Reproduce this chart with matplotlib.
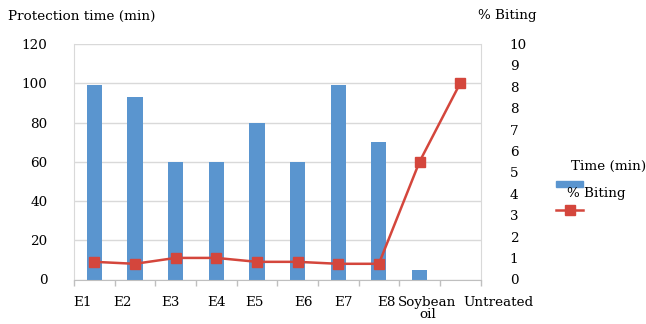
import numpy as np
import matplotlib
matplotlib.use("Agg")
import matplotlib.pyplot as plt
from matplotlib.transforms import ScaledTranslation
from matplotlib.patches import Rectangle
from matplotlib.lines import Line2D

plt.rcParams['font.family'] = ['DejaVu Serif']

# Treatments and measurements
categories = ["E1", "E2", "E3", "E4", "E5", "E6", "E7", "E8", "Soybean\noil", "Untreated"]
protection_time = [99, 93, 60, 60, 80, 60, 99, 70, 5, 0]      # minutes
biting = [9, 8, 11, 11, 9, 9, 8, 8, 60, 100]                  # % biting
left_ticks = [0, 20, 40, 60, 80, 100, 120]
right_tick_labels = ["0", "1", "2", "3", "4", "5", "6", "7", "8", "8", "9", "10"]

BLUE = "#5A95CF"
RED = "#D4463C"
GRID = "#D9D9D9"
FS = 9.7

W, H = 646, 324
fig = plt.figure(figsize=(W / 100, H / 100), dpi=100)
ax = fig.add_axes([74 / W, 1 - 279.5 / H, (480.5 - 74) / W, (279.5 - 44) / H])

x = np.arange(len(categories))
ax.bar(x, protection_time, width=0.375, color=BLUE, zorder=2)
ax.plot(x, biting, color=RED, lw=1.8, marker="s", ms=7, zorder=3)

ax.set_xlim(-0.5, len(categories) - 0.5)
ax.set_ylim(left_ticks[0], left_ticks[-1])
ax.set_yticks(left_ticks)
ax.yaxis.grid(True, color=GRID, lw=1)
ax.set_axisbelow(True)
ax.tick_params(axis="y", length=0, pad=19, labelsize=FS)

ax.spines["top"].set_visible(False)
ax.spines["left"].set_color(GRID)
ax.spines["right"].set_color(GRID)
ax.spines["bottom"].set_color("#BFBFBF")

# category labels centred on bars, boundary tick marks between them
ax.set_xticks(x, categories)
ax.set_xticks(np.arange(-0.5, len(categories), 1), minor=True)
ax.tick_params(axis="x", which="major", length=0, pad=12, labelsize=FS)
ax.tick_params(axis="x", which="minor", length=4, color="#BFBFBF", width=1)
shifts_px = [-12, -12.5, -5, 0, -2, 5.5, 5.5, 8, 8, 38]
for lab, dx in zip(ax.get_xticklabels(), shifts_px):
    lab.set_transform(lab.get_transform() + ScaledTranslation(dx / 100, 0, fig.dpi_scale_trans))
    lab.set_linespacing(0.9)

# secondary scale for % biting
ax2 = ax.twinx()
ax2.set_ylim(0, len(right_tick_labels) - 1)
ax2.set_yticks(np.arange(len(right_tick_labels)), right_tick_labels)
ax2.tick_params(axis="y", length=0, pad=21, labelsize=FS)
for s in ax2.spines.values():
    s.set_visible(False)

# axis titles
fig.text(8 / W, 1 - 16 / H, "Protection time (min)", fontsize=FS, va="center", ha="left")
fig.text(478 / W, 1 - 16 / H, "% Biting", fontsize=FS, va="center", ha="left")

# legend
fig.text(571 / W, 1 - 166 / H, "Time (min)", fontsize=FS, va="center", ha="left")
fig.add_artist(Rectangle((556 / W, 1 - 186.5 / H), 27 / W, 6 / H,
                         transform=fig.transFigure, color=BLUE))
fig.text(567 / W, 1 - 194 / H, "% Biting", fontsize=FS, va="center", ha="left")
fig.add_artist(Line2D([556 / W, 583 / W], [1 - 210 / H] * 2, transform=fig.transFigure,
                      color=RED, lw=1.8))
fig.add_artist(Line2D([569.5 / W], [1 - 210 / H], transform=fig.transFigure,
                      color=RED, marker="s", ms=7, lw=0))

fig.savefig("out.png", dpi=100)
